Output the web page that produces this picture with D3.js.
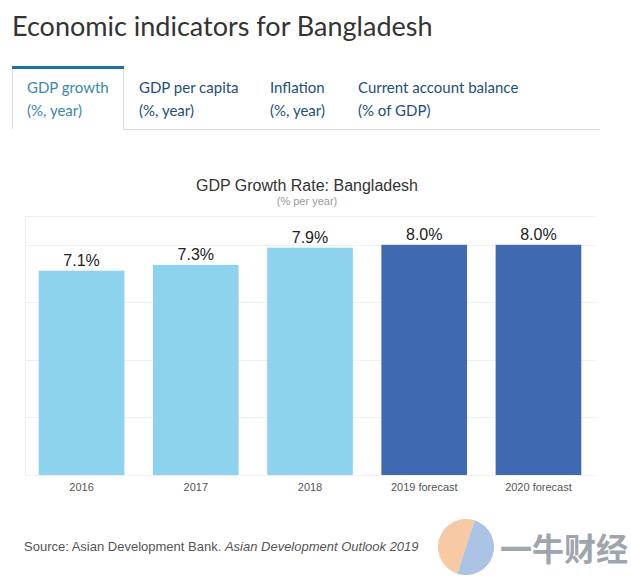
<!DOCTYPE html>
<html>
<head>
<meta charset="utf-8">
<script src="https://cdn.jsdelivr.net/npm/d3@7"></script>
<style>
  body { margin: 0; background: #fff; }
  svg { display: block; }
</style>
</head>
<body>
<div id="chart"></div>
<script>
// data
var years = ["2016", "2017", "2018", "2019 forecast", "2020 forecast"];
var growth = [7.1, 7.3, 7.9, 8.0, 8.0];
var forecast = [false, false, false, true, true];
var gridTicks = [0, 2, 4, 6, 8];
var tabs = [
    ["GDP growth", "(%, year)"],
    ["GDP per capita", "(%, year)"],
    ["Inflation", "(%, year)"],
    ["Current account balance", "(% of GDP)"]
];
var tabX = [27, 139, 270, 358];

var w = 631, h = 576;
var plot = {left: 25, right: 595, top: 216, bottom: 475};

var svg = d3.select("#chart").append("svg")
    .attr("width", w)
    .attr("height", h);

// page header
svg.append("text")
    .attr("x", 12).attr("y", 36)
    .attr("font-family", "Lato")
    .attr("font-size", 27)
    .attr("fill", "#333")
    .text("Economic indicators for Bangladesh");

// tabs
svg.append("line")                          // bottom line of tab bar
    .attr("x1", 123).attr("x2", 600)
    .attr("y1", 129.5).attr("y2", 129.5)
    .attr("stroke", "#dcdcdc");
svg.append("path")                          // active tab outline
    .attr("d", "M12.5,129 V67 H123.5 V129")
    .attr("fill", "none")
    .attr("stroke", "#dcdcdc");
svg.append("rect")                          // active tab top bar
    .attr("x", 12).attr("y", 66)
    .attr("width", 112).attr("height", 3)
    .attr("fill", "#1f6fa6");

tabs.forEach(function(t, i) {
    var g = svg.append("g")
        .attr("font-family", "Lato")
        .attr("font-size", 15)
        .attr("fill", i == 0 ? "#3d86b0" : "#1d4f7c");
    g.append("text").attr("x", tabX[i]).attr("y", 93).text(t[0]);
    g.append("text").attr("x", tabX[i]).attr("y", 116).text(t[1]);
});

// chart titles
svg.append("text")
    .attr("x", 307).attr("y", 191)
    .attr("text-anchor", "middle")
    .attr("font-family", "Arial")
    .attr("font-size", 16)
    .attr("fill", "#333")
    .text("GDP Growth Rate: Bangladesh");
svg.append("text")
    .attr("x", 307).attr("y", 205)
    .attr("text-anchor", "middle")
    .attr("font-family", "Arial")
    .attr("font-size", 11)
    .attr("fill", "#999")
    .text("(% per year)");

// scales
var xScale = d3.scaleBand()
    .domain(years)
    .range([plot.left, plot.right])
    .paddingInner(0.25)
    .paddingOuter(0.12);
var yScale = d3.scaleLinear()
    .domain([0, 9])
    .range([plot.bottom, plot.top]);

// grid
svg.append("g").selectAll("line")
    .data(gridTicks.concat([9]))
    .enter().append("line")
    .attr("x1", plot.left).attr("x2", plot.right)
    .attr("y1", d => Math.round(yScale(d)) + 0.5)
    .attr("y2", d => Math.round(yScale(d)) + 0.5)
    .attr("stroke", "#f0f0f0");
svg.append("line")
    .attr("x1", plot.left + 0.5).attr("x2", plot.left + 0.5)
    .attr("y1", plot.top).attr("y2", plot.bottom)
    .attr("stroke", "#f0f0f0");

// bars
svg.append("g").selectAll("rect")
    .data(growth)
    .enter().append("rect")
    .attr("x", (d, i) => xScale(years[i]))
    .attr("y", d => yScale(d))
    .attr("width", xScale.bandwidth())
    .attr("height", d => yScale(0) - yScale(d))
    .attr("fill", (d, i) => forecast[i] ? "#3f6ab2" : "#8ed3ee");

// value labels
svg.append("g").selectAll("text")
    .data(growth)
    .enter().append("text")
    .attr("x", (d, i) => xScale(years[i]) + xScale.bandwidth() / 2)
    .attr("y", d => yScale(d) - 5)
    .attr("text-anchor", "middle")
    .attr("font-family", "Arial")
    .attr("font-size", 16)
    .attr("fill", "#222")
    .text(d => d.toFixed(1) + "%");

// x axis labels
var xAxis = d3.axisBottom(xScale).tickSize(0).tickPadding(8);
var gX = svg.append("g")
    .attr("transform", "translate(0," + plot.bottom + ")")
    .call(xAxis);
gX.select(".domain").remove();
gX.selectAll("text")
    .attr("font-family", "Arial")
    .attr("font-size", 11)
    .attr("fill", "#555");

// source
var src = svg.append("text")
    .attr("x", 24).attr("y", 551)
    .attr("font-family", "Arial")
    .attr("font-size", 13)
    .attr("fill", "#555");
src.append("tspan").text("Source: Asian Development Bank. ");
src.append("tspan").attr("font-style", "italic").text("Asian Development Outlook 2019");

// watermark
var wm = svg.append("g").attr("opacity", 0.75);
wm.append("path")
    .attr("d", d3.arc()({innerRadius: 0, outerRadius: 28, startAngle: -Math.PI * 0.9, endAngle: Math.PI * 0.1}))
    .attr("transform", "translate(466,547)")
    .attr("fill", "#f5b887");
wm.append("path")
    .attr("d", d3.arc()({innerRadius: 0, outerRadius: 28, startAngle: Math.PI * 0.1, endAngle: Math.PI * 1.1}))
    .attr("transform", "translate(466,547)")
    .attr("fill", "#8fb0dc");
wm.append("text")
    .attr("x", 500).attr("y", 561)
    .attr("font-family", "Noto Sans CJK SC")
    .attr("font-weight", "bold")
    .attr("font-size", 32)
    .attr("fill", "#7f8791")
    .text("一牛财经");
</script>
</body>
</html>
